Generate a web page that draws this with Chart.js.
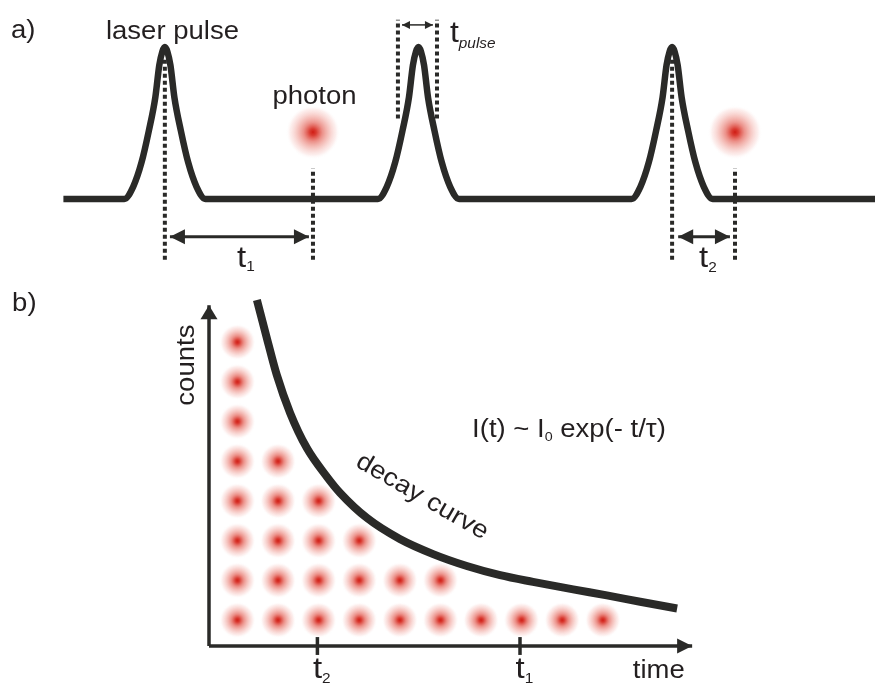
<!DOCTYPE html>
<html>
<head>
<meta charset="utf-8">
<script src="https://cdn.jsdelivr.net/npm/chart.js@4.4.1/dist/chart.umd.min.js"></script>
<style>
  html, body { margin: 0; padding: 0; background: #fff; }
  #wrap { position: relative; width: 875px; height: 684px; }
  #pulseChart { position: absolute; left: 0; top: 0; }
  #decayChart { position: absolute; left: 0; top: 290px; }
</style>
</head>
<body>
<div id="wrap">
  <canvas id="pulseChart" width="875" height="290"></canvas>
  <canvas id="decayChart" width="875" height="394"></canvas>
</div>
<script>
// ---- a) laser pulse train (time in pulse-period tenths, level relative to peak) ----
const pulseCenters = [0, 10, 20];
const pulseOffsets = [-1.6, -1.25, -0.92, -0.63, -0.375, -0.22, -0.1, 0, 0.1, 0.22, 0.375, 0.63, 0.92, 1.25, 1.6];
const pulseHeights = [0, 0.08, 0.24, 0.45, 0.67, 0.88, 0.97, 1, 0.97, 0.88, 0.67, 0.45, 0.24, 0.08, 0];
const traceRange = [-4, 28];
const photonTimes = [5.84, 22.48];
const photonLevel = 0.44;
const pulseWidthEdges = [9.19, 10.73];

// ---- b) histogram of photon arrival times ----
const binTimes = [0.7, 1.7, 2.7, 3.7, 4.7, 5.7, 6.7, 7.7, 8.7, 9.7];
const binCounts = [8, 5, 4, 3, 2, 2, 1, 1, 1, 1];
const decayTimes = [1.18, 1.43, 1.67, 2.0, 2.41, 2.91, 3.23, 3.89, 4.7, 5.52, 6.35, 7.17, 7.98, 8.97, 9.8, 10.62, 11.53];
const decayCounts = [9.06, 8.08, 7.17, 6.21, 5.33, 4.6, 4.2, 3.57, 3.04, 2.66, 2.36, 2.13, 1.96, 1.77, 1.62, 1.46, 1.29];
const tickTimes = [2.67, 7.66];
const tickLabels = ['2', '1'];

const ink = '#2a2a28';
const textColor = '#231f20';
const fontFamily = '"Liberation Sans", Arial, sans-serif';

// red blurred dot used for photons
function makeGlow(r) {
    const c = document.createElement('canvas');
    c.width = c.height = r * 2;
    const g = c.getContext('2d');
    const grad = g.createRadialGradient(r, r, 0, r, r, r);
    grad.addColorStop(0, 'rgba(208,28,20,1)');
    grad.addColorStop(0.12, 'rgba(214,42,32,0.92)');
    grad.addColorStop(0.35, 'rgba(224,78,66,0.62)');
    grad.addColorStop(0.6, 'rgba(232,112,100,0.38)');
    grad.addColorStop(0.85, 'rgba(240,150,142,0.15)');
    grad.addColorStop(1, 'rgba(255,255,255,0)');
    g.fillStyle = grad;
    g.fillRect(0, 0, r * 2, r * 2);
    return c;
}

function seg(x0, y0, x1, y1) {
    return [{ x: x0, y: y0 }, { x: x1, y: y1 }];
}

function dotted(data) {
    return { data: data, borderColor: ink, borderWidth: 4, borderDash: [4, 3] };
}

function arrow(data, width, headLen, headWidth) {
    return { data: data, borderColor: ink, borderWidth: width, arrow: { start: true, end: true, length: headLen, width: headWidth } };
}

// draws filled arrow heads at dataset end points
const arrowHeads = {
    id: 'arrowHeads',
    afterDatasetsDraw(chart) {
        const ctx = chart.ctx;
        chart.data.datasets.forEach((ds, i) => {
            if (!ds.arrow) return;
            const pts = chart.getDatasetMeta(i).data;
            const ends = [];
            if (ds.arrow.start) ends.push([pts[0], pts[1]]);
            if (ds.arrow.end) ends.push([pts[pts.length - 1], pts[pts.length - 2]]);
            ends.forEach(([tip, prev]) => {
                const ang = Math.atan2(tip.y - prev.y, tip.x - prev.x);
                ctx.save();
                ctx.translate(tip.x, tip.y);
                ctx.rotate(ang);
                ctx.beginPath();
                ctx.moveTo(0, 0);
                ctx.lineTo(-ds.arrow.length, ds.arrow.width / 2);
                ctx.lineTo(-ds.arrow.length, -ds.arrow.width / 2);
                ctx.closePath();
                ctx.fillStyle = ds.borderColor;
                ctx.fill();
                ctx.restore();
            });
        });
    }
};

// text labels placed in data coordinates (items kept out of the options resolver)
function textLabels(items) {
    return {
        id: 'textLabels',
        afterDraw(chart) {
            const ctx = chart.ctx;
            items.forEach(item => {
                const px = chart.scales.x.getPixelForValue(item.x);
                const py = chart.scales.y.getPixelForValue(item.y);
                ctx.save();
                ctx.translate(px, py);
                if (item.rotate) ctx.rotate(item.rotate * Math.PI / 180);
                ctx.scale(1.1, 1);
                ctx.fillStyle = textColor;
                ctx.textBaseline = item.baseline || 'alphabetic';
                ctx.textAlign = 'left';
                const fontOf = r => (r.italic ? 'italic ' : '') + r.size + 'px ' + fontFamily;
                const widths = item.runs.map(r => { ctx.font = fontOf(r); return ctx.measureText(r.text).width; });
                const total = widths.reduce((a, b) => a + b, 0);
                let cx = item.align === 'center' ? -total / 2 : 0;
                item.runs.forEach((r, i) => {
                    ctx.font = fontOf(r);
                    ctx.fillText(r.text, cx, r.shift || 0);
                    cx += widths[i];
                });
                ctx.restore();
            });
        }
    };
}

function baseOptions(xr, yr) {
    return {
        responsive: false,
        animation: false,
        events: [],
        layout: { padding: 0, autoPadding: false },
        plugins: {
            legend: { display: false },
            tooltip: { enabled: false }
        },
        scales: {
            x: { type: 'linear', min: xr[0], max: xr[1], display: false },
            y: { type: 'linear', min: yr[0], max: yr[1], display: false }
        },
        elements: {
            point: { radius: 0 },
            line: { borderCapStyle: 'butt', borderJoinStyle: 'round' }
        }
    };
}

// ---------- chart a ----------
const pulseTrace = [{ x: traceRange[0], y: 0 }];
pulseCenters.forEach(c => {
    pulseOffsets.forEach((o, i) => pulseTrace.push({ x: c + o, y: pulseHeights[i] }));
});
pulseTrace.push({ x: traceRange[1], y: 0 });

const glowA = makeGlow(27);
const glowB = makeGlow(18);

const pulseLabelItems = [
    { x: -6.07, y: 1.06, runs: [{ text: 'a)', size: 25 }] },
    { x: 0.30, y: 1.053, align: 'center', runs: [{ text: 'laser pulse', size: 25 }] },
    { x: 5.9, y: 0.628, align: 'center', runs: [{ text: 'photon', size: 25 }] },
    { x: 2.845, y: -0.449, runs: [{ text: 't', size: 30 }, { text: '1', size: 14, shift: 4 }] },
    { x: 21.06, y: -0.449, runs: [{ text: 't', size: 30 }, { text: '2', size: 14, shift: 5 }] },
    { x: 11.24, y: 1.033, runs: [{ text: 't', size: 29 }, { text: 'pulse', size: 14, italic: true, shift: 6 }] }
];

new Chart(document.getElementById('pulseChart'), {
    type: 'line',
    data: {
        datasets: [
            arrow(seg(0.2, -0.25, 5.68, -0.25), 3, 15, 15),
            arrow(seg(20.24, -0.25, 22.28, -0.25), 3, 15, 15),
            arrow(seg(9.35, 1.146, 10.57, 1.146), 1.5, 8, 8),
            dotted(seg(pulseCenters[0], -0.4, pulseCenters[0], 0.92)),
            dotted(seg(pulseCenters[2], -0.4, pulseCenters[2], 0.92)),
            dotted(seg(photonTimes[0], -0.4, photonTimes[0], 0.2)),
            dotted(seg(photonTimes[1], -0.4, photonTimes[1], 0.2)),
            dotted(seg(pulseWidthEdges[0], 0.53, pulseWidthEdges[0], 1.18)),
            dotted(seg(pulseWidthEdges[1], 0.53, pulseWidthEdges[1], 1.18)),
            {
                data: pulseTrace,
                borderColor: ink,
                borderWidth: 6.5,
                cubicInterpolationMode: 'monotone'
            },
            {
                data: photonTimes.map(t => ({ x: t, y: photonLevel })),
                showLine: false,
                pointStyle: glowA,
                pointRadius: 20
            }
        ]
    },
    options: baseOptions([-6.5, 28], [-0.6, 1.31]),
    plugins: [arrowHeads, textLabels(pulseLabelItems)]
});

// ---------- chart b ----------
const histPoints = [];
binTimes.forEach((t, i) => {
    for (let k = 1; k <= binCounts[i]; k++) histPoints.push({ x: t, y: k });
});

const axisOrigin = 0.345;
const decayLabelItems = [
    { x: -4.85, y: 8.78, runs: [{ text: 'b)', size: 25 }] },
    { x: -0.37, y: 7.42, rotate: -90, align: 'center', runs: [{ text: 'counts', size: 25 }] },
    { x: 6.48, y: 5.61, runs: [
        { text: 'I(t) ~ I', size: 25 }, { text: '0', size: 13, shift: 4 }, { text: ' exp(- t/\u03C4)', size: 25 }
    ] },
    { x: 5.25, y: 4.10, rotate: 30, align: 'center', baseline: 'middle', runs: [{ text: 'decay curve', size: 25 }] },
    { x: 10.44, y: -0.46, runs: [{ text: 'time', size: 25 }] }
].concat(tickTimes.map((t, i) => ({
    x: t - 0.11, y: -0.46, runs: [{ text: 't', size: 30 }, { text: tickLabels[i], size: 14, shift: 5 }]
})));

new Chart(document.getElementById('decayChart'), {
    type: 'line',
    data: {
        datasets: [
            {
                data: decayTimes.map((t, i) => ({ x: t, y: decayCounts[i] })),
                borderColor: ink,
                borderWidth: 8,
                cubicInterpolationMode: 'monotone'
            },
            { data: seg(0, axisOrigin, 11.9, axisOrigin), borderColor: ink, borderWidth: 3.5,
              arrow: { end: true, length: 15, width: 15 } },
            { data: seg(0, axisOrigin, 0, 8.93), borderColor: ink, borderWidth: 3.5,
              arrow: { end: true, length: 14, width: 17 } },
            ...tickTimes.map(t => ({ data: seg(t, 0.12, t, 0.57), borderColor: ink, borderWidth: 3.5 })),
            {
                data: histPoints,
                showLine: false,
                pointStyle: glowB,
                pointRadius: 16
            }
        ]
    },
    options: baseOptions([-5.148, 16.404], [-0.612, 9.312]),
    plugins: [arrowHeads, textLabels(decayLabelItems)]
});
</script>
</body>
</html>
